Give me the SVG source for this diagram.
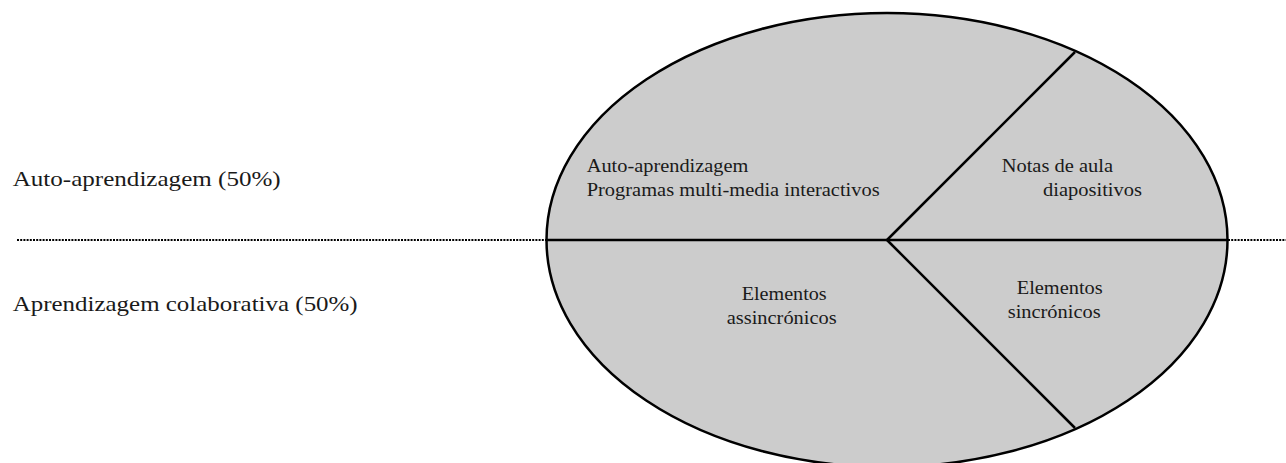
<svg xmlns="http://www.w3.org/2000/svg" width="1286" height="463" viewBox="0 0 1286 463">
<style>
.lbl{font-size:22px}
.in{font-size:19px}
.edge{stroke:#000;stroke-width:2.5;fill:none}
.dot{stroke:#000;stroke-width:2;stroke-dasharray:2 1.2;fill:none}
</style>
<rect width="1286" height="463" fill="#fff"/>
<g id="pie">
<ellipse cx="887" cy="240" rx="340.5" ry="227" fill="#cccccc" stroke="#000" stroke-width="2.5"/>
</g>
<g id="connectors">
<line class="dot" x1="17" y1="240" x2="546" y2="240"/>
<line class="dot" x1="1228" y1="240" x2="1286" y2="240"/>
<line class="edge" x1="546" y1="240" x2="1228" y2="240"/>
<line class="edge" x1="887" y1="240" x2="1075" y2="52"/>
<line class="edge" x1="887" y1="240" x2="1075" y2="428"/>
</g>
<g font-family="Liberation Serif, Times New Roman, serif" fill="#1a1a1a">
<g id="label-auto">
<text class="lbl" x="12.7" y="186" textLength="268" lengthAdjust="spacingAndGlyphs">Auto-aprendizagem (50%)</text>
</g>
<g id="label-colab">
<text class="lbl" x="12.7" y="311" textLength="345" lengthAdjust="spacingAndGlyphs">Aprendizagem colaborativa (50%)</text>
</g>
<g id="slice-auto">
<text class="in" x="586.7" y="172" textLength="161.7" lengthAdjust="spacingAndGlyphs">Auto-aprendizagem</text>
<text class="in" x="586.7" y="196" textLength="293" lengthAdjust="spacingAndGlyphs">Programas multi-media interactivos</text>
</g>
<g id="slice-notas">
<text class="in" x="1001.7" y="172" textLength="111.3" lengthAdjust="spacingAndGlyphs">Notas de aula</text>
<text class="in" x="1043" y="195.5" textLength="99" lengthAdjust="spacingAndGlyphs">diapositivos</text>
</g>
<g id="slice-assinc">
<text class="in" x="741.7" y="300" textLength="85" lengthAdjust="spacingAndGlyphs">Elementos</text>
<text class="in" x="726.7" y="323.5" textLength="110" lengthAdjust="spacingAndGlyphs">assincrónicos</text>
</g>
<g id="slice-sinc">
<text class="in" x="1016.7" y="294" textLength="86" lengthAdjust="spacingAndGlyphs">Elementos</text>
<text class="in" x="1007.7" y="317.7" textLength="93" lengthAdjust="spacingAndGlyphs">sincrónicos</text>
</g>
</g>
</svg>
